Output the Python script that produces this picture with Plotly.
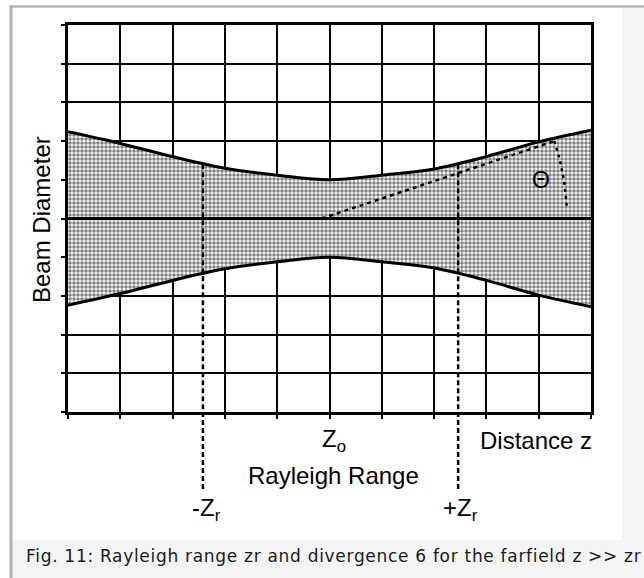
import numpy as np
import plotly.graph_objects as go

# ---- data (grid units: 10 columns x 10 rows) ----
z_positions = [0, 1, 2, 3, 4, 5, 6, 7, 8, 9, 10]
half_diameter = [2.24, 1.94, 1.60, 1.30, 1.12, 1.00, 1.12, 1.28, 1.60, 1.98, 2.28]
z_waist = 5.0
rayleigh_z = [2.58, 7.46]
rayleigh_halfwidth = 1.40
divergence_start = [4.85, 0.0]
divergence_end = [9.3, 2.0]

# page geometry (pixels)
W, H = 644, 578
L, R, T, B = 68, 591, 25, 412


def px_x(p):
    return (p - L) / (R - L)


def px_y(p):
    return (B - p) / (B - T)


fig = go.Figure()

# lower envelope
fig.add_trace(go.Scatter(
    x=z_positions, y=[-v for v in half_diameter], mode="lines",
    line=dict(color="black", width=3, shape="spline"), hoverinfo="skip",
    showlegend=False))
# upper envelope, filled down to lower
fig.add_trace(go.Scatter(
    x=z_positions, y=half_diameter, mode="lines",
    line=dict(color="black", width=3, shape="spline"), fill="tonexty",
    fillcolor="white",
    fillpattern=dict(shape=".", fgcolor="black", bgcolor="white", size=4, solidity=0.6),
    hoverinfo="skip", showlegend=False))

# divergence dashed line
fig.add_trace(go.Scatter(
    x=[divergence_start[0], divergence_end[0]], y=[divergence_start[1], divergence_end[1]],
    mode="lines", line=dict(color="black", width=2.5, dash="4px,4px"),
    hoverinfo="skip", showlegend=False))

# theta arc (centred on divergence start, through divergence end)
sx = (R - L) / 10.0
sy = (B - T) / 10.0
dxp = (divergence_end[0] - divergence_start[0]) * sx
dyp = (divergence_end[1] - divergence_start[1]) * sy
rad = np.hypot(dxp, dyp)
a0 = np.arctan2(dyp, dxp)
ang = np.linspace(a0, np.radians(2.5), 30)
fig.add_trace(go.Scatter(
    x=divergence_start[0] + rad * np.cos(ang) / sx,
    y=divergence_start[1] + rad * np.sin(ang) / sy,
    mode="lines", line=dict(color="black", width=2.5, dash="3px,4px"),
    hoverinfo="skip", showlegend=False))

shapes = []
# page decorations
shapes.append(dict(type="rect", xref="paper", yref="paper", x0=px_x(12), x1=px_x(W + 2),
                   y0=px_y(8), y1=px_y(H + 2), fillcolor="#f4f4f4", line=dict(width=0), layer="below"))
shapes.append(dict(type="rect", xref="paper", yref="paper", x0=px_x(12), x1=px_x(622),
                   y0=px_y(8), y1=px_y(540), fillcolor="white", line=dict(width=0), layer="below"))
shapes.append(dict(type="line", xref="paper", yref="paper", x0=px_x(11), x1=px_x(11),
                   y0=px_y(5), y1=px_y(H + 2), line=dict(color="#b4b4b4", width=3)))
shapes.append(dict(type="line", xref="paper", yref="paper", x0=px_x(10), x1=px_x(W + 2),
                   y0=px_y(6.5), y1=px_y(6.5), line=dict(color="#b4b4b4", width=2.5)))
# centre line
shapes.append(dict(type="line", xref="paper", yref="y", x0=0, x1=1, y0=0, y1=0,
                   line=dict(color="black", width=3), layer="above"))
# Rayleigh range dashed verticals
for zr in rayleigh_z:
    shapes.append(dict(type="line", xref="x", yref="y", x0=zr, x1=zr, y0=rayleigh_halfwidth, y1=-5,
                       line=dict(color="black", width=2.5, dash="5px,3px"), layer="above"))
    shapes.append(dict(type="line", xref="x", yref="paper", x0=zr, x1=zr, y0=0, y1=px_y(492),
                       line=dict(color="black", width=2.5, dash="5px,3px"), layer="above"))

scan_font = dict(family="Liberation Sans, Arial, sans-serif", size=24, color="black")
annotations = [
    dict(text="Beam Diameter", x=px_x(41), y=px_y(220), textangle=-90),
    dict(text="Z<sub>o</sub>", x=px_x(334), y=px_y(440)),
    dict(text="Distance z", x=px_x(536), y=px_y(440)),
    dict(text="Rayleigh Range", x=px_x(333), y=px_y(475)),
    dict(text="-Z<sub>r</sub>", x=px_x(206), y=px_y(509)),
    dict(text="+Z<sub>r</sub>", x=px_x(460), y=px_y(509)),
]
for a in annotations:
    a.update(xref="paper", yref="paper", showarrow=False, font=scan_font,
             xanchor="center", yanchor="middle")
annotations.append(dict(text="Θ", x=9.04, y=1.0, xref="x", yref="y", showarrow=False,
                        font=dict(family="Liberation Sans, Arial, sans-serif", size=23, color="black")))
annotations.append(dict(text="<span style='letter-spacing:0.7px'>Fig. 11: Rayleigh range zr and divergence 6 for the farfield z >> zr</span>",
                        x=px_x(24), y=px_y(556), xref="paper", yref="paper", showarrow=False,
                        xanchor="left", yanchor="middle",
                        font=dict(family="DejaVu Sans", size=17, color="#1a1a1a")))

axis_common = dict(showgrid=True, gridcolor="black", gridwidth=2, dtick=1,
                   showline=True, linecolor="black", linewidth=3, mirror=True,
                   ticks="outside", ticklen=4, tickwidth=2, tickcolor="black",
                   showticklabels=False, zeroline=False, fixedrange=True)

fig.update_layout(
    width=W, height=H,
    margin=dict(l=L, r=W - R, t=T, b=H - B),
    paper_bgcolor="white", plot_bgcolor="white",
    xaxis=dict(range=[0, 10], tick0=0, **axis_common),
    yaxis=dict(range=[-5, 5], tick0=-5, **axis_common),
    shapes=shapes, annotations=annotations, showlegend=False,
)

fig.write_html("out.html", config={"displayModeBar": False},
               post_script="document.body.style.margin='0';document.body.style.overflow='hidden';")
